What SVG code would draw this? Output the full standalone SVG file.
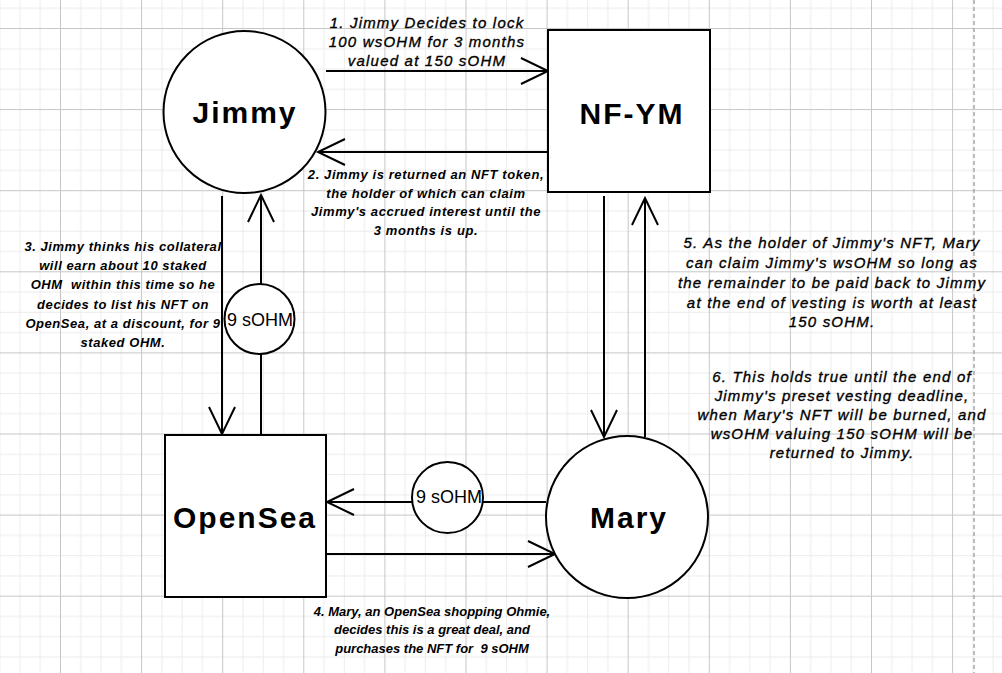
<svg xmlns="http://www.w3.org/2000/svg" width="1002" height="673" viewBox="0 0 1002 673">
  <defs>
    <pattern id="grid" x="60" y="28" width="81.1" height="81.1" patternUnits="userSpaceOnUse">
      <path d="M20.775,0V81.1M41.05,0V81.1M61.325,0V81.1M0,20.775H81.1M0,41.05H81.1M0,61.325H81.1" stroke="#ececec" stroke-width="1" fill="none"/>
      <path d="M0.5,0V81.1M0,0.5H81.1" stroke="#c6c6c6" stroke-width="1" fill="none"/>
    </pattern>
    <marker id="arr" viewBox="-30 -16 32 32" markerWidth="32" markerHeight="32" refX="0" refY="0" markerUnits="userSpaceOnUse" orient="auto" overflow="visible">
      <path d="M-27,-13L0,0L-27,13" fill="none" stroke="#000" stroke-width="2"/>
    </marker>
    <style>
      .shape{fill:#fff;stroke:#000;stroke-width:2}
      .conn{fill:none;stroke:#000;stroke-width:2}
      .big{font-family:"Liberation Sans",Arial,sans-serif;font-size:30px;font-weight:bold;letter-spacing:2px;text-anchor:middle;fill:#000}
      .small{font-family:"Liberation Sans",Arial,sans-serif;font-size:18px;text-anchor:middle;fill:#000}
      .note{font-family:"Liberation Sans",Arial,sans-serif;font-size:15px;font-style:italic;letter-spacing:1.2px;text-anchor:middle;fill:#000;stroke:#000;stroke-width:0.35px}
      .noteb{font-family:"Liberation Sans",Arial,sans-serif;font-size:13px;font-style:italic;font-weight:bold;text-anchor:middle;fill:#000}
    </style>
  </defs>
  <rect width="1002" height="673" fill="#fff"/>
  <rect width="1002" height="673" fill="url(#grid)"/>
  <line x1="974" y1="0" x2="974" y2="673" stroke="#a8a8a8" stroke-width="1.5" stroke-dasharray="4,3"/>

  <g id="connectors">
    <line class="conn" x1="326" y1="71" x2="548" y2="71" marker-end="url(#arr)"/>
    <line class="conn" x1="548" y1="152" x2="318" y2="152" marker-end="url(#arr)"/>
    <line class="conn" x1="222" y1="196" x2="222" y2="434" marker-end="url(#arr)"/>
    <line class="conn" x1="261" y1="435" x2="261" y2="354"/>
    <line class="conn" x1="261" y1="284" x2="261" y2="195" marker-end="url(#arr)"/>
    <line class="conn" x1="604" y1="196" x2="604" y2="437" marker-end="url(#arr)"/>
    <line class="conn" x1="645" y1="437" x2="645" y2="198" marker-end="url(#arr)"/>
    <line class="conn" x1="546" y1="502" x2="483" y2="502"/>
    <line class="conn" x1="412" y1="502" x2="327" y2="502" marker-end="url(#arr)"/>
    <line class="conn" x1="326" y1="554" x2="555" y2="554" marker-end="url(#arr)"/>
  </g>

  <g id="jimmy">
    <circle class="shape" cx="244.5" cy="112" r="81"/>
    <text class="big" x="245" y="123">Jimmy</text>
  </g>
  <g id="nfym">
    <rect class="shape" x="548" y="30" width="162" height="162"/>
    <text class="big" x="632" y="124">NF-YM</text>
  </g>
  <g id="opensea">
    <rect class="shape" x="165" y="435" width="161" height="162"/>
    <text class="big" x="245" y="528">OpenSea</text>
  </g>
  <g id="mary">
    <circle class="shape" cx="627" cy="517" r="81"/>
    <text class="big" x="629" y="528">Mary</text>
  </g>
  <g id="pay-left">
    <circle class="shape" cx="259.5" cy="319" r="35"/>
    <text class="small" x="260" y="326">9 sOHM</text>
  </g>
  <g id="pay-bottom">
    <circle class="shape" cx="447.5" cy="497.5" r="35.5"/>
    <text class="small" x="449" y="503">9 sOHM</text>
  </g>

  <g id="labels">
    <text class="note" x="427" y="28">1. Jimmy Decides to lock</text>
    <text class="note" x="427" y="47">100 wsOHM for 3 months</text>
    <text class="note" x="427" y="66">valued at 150 sOHM</text>

    <g class="noteb" style="letter-spacing:0.6px">
      <text x="426" y="179">2. Jimmy is returned an NFT token,</text>
      <text x="426" y="198">the holder of which can claim</text>
      <text x="426" y="216">Jimmy's accrued interest until the</text>
      <text x="426" y="235">3 months is up.</text>
    </g>

    <g class="noteb" style="letter-spacing:0.55px">
      <text x="123" y="251">3. Jimmy thinks his collateral</text>
      <text x="123" y="270">will earn about 10 staked</text>
      <text x="123" y="289" xml:space="preserve">OHM  within this time so he</text>
      <text x="123" y="309">decides to list his NFT on</text>
      <text x="123" y="328">OpenSea, at a discount, for 9</text>
      <text x="123" y="347">staked OHM.</text>
    </g>

    <g class="noteb">
      <text x="432" y="616">4. Mary, an OpenSea shopping Ohmie,</text>
      <text x="432" y="634">decides this is a great deal, and</text>
      <text x="432" y="653" xml:space="preserve">purchases the NFT for  9 sOHM</text>
    </g>

    <text class="note" x="832" y="248">5. As the holder of Jimmy's NFT, Mary</text>
    <text class="note" x="832" y="268">can claim Jimmy's wsOHM so long as</text>
    <text class="note" x="832" y="288">the remainder to be paid back to Jimmy</text>
    <text class="note" x="832" y="308">at the end of vesting is worth at least</text>
    <text class="note" x="832" y="327">150 sOHM.</text>

    <text class="note" x="842" y="382">6. This holds true until the end of</text>
    <text class="note" x="842" y="401">Jimmy's preset vesting deadline,</text>
    <text class="note" x="842" y="420">when Mary's NFT will be burned, and</text>
    <text class="note" x="842" y="439">wsOHM valuing 150 sOHM will be</text>
    <text class="note" x="842" y="458">returned to Jimmy.</text>
  </g>
</svg>
